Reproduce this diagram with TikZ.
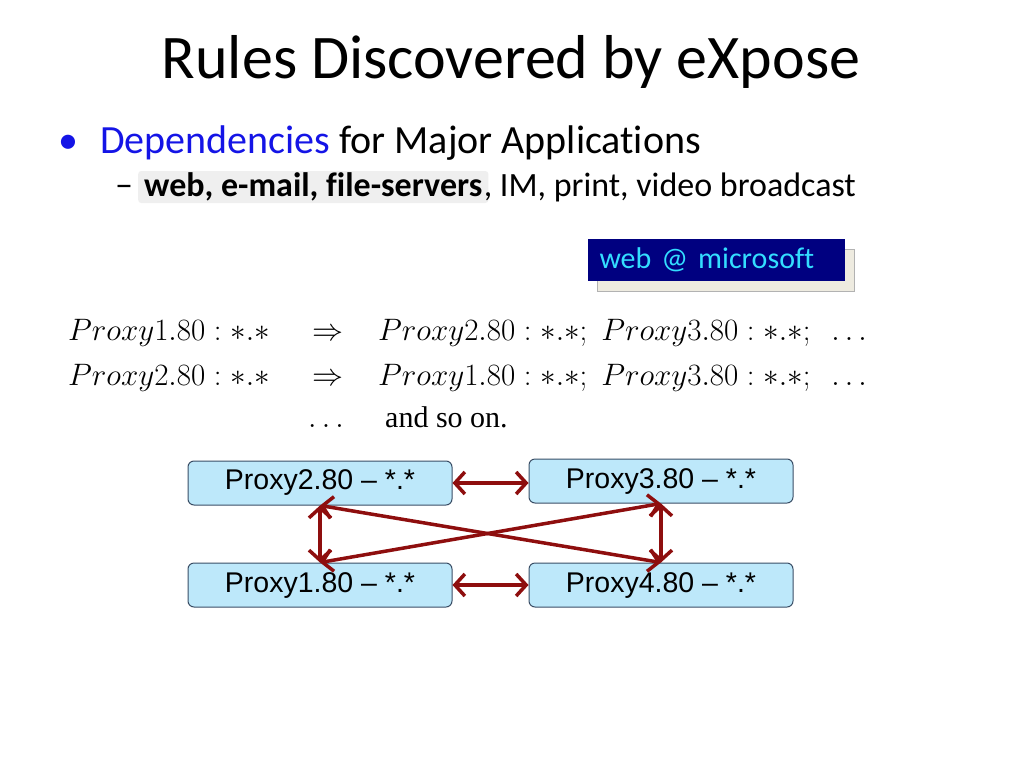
\RequirePackage{fix-cm}
\documentclass[tikz,border=0pt]{standalone}
\usepackage[no-math]{fontspec}
\setmainfont{Carlito}[Ligatures=NoCommon]
\newfontfamily\arialfont{Liberation Sans}
\newfontfamily\timesfont{Liberation Serif}
\usetikzlibrary{arrows.meta,shadows}
\definecolor{depblue}{HTML}{1414E6}
\definecolor{hlgray}{HTML}{EFEFEF}
\definecolor{navybox}{HTML}{000080}
\definecolor{cyantext}{HTML}{33DDFF}
\definecolor{shadowfill}{HTML}{EEEBE0}
\definecolor{proxyfill}{HTML}{BDE8FA}
\definecolor{proxyedge}{HTML}{3A4E66}
\definecolor{linkred}{HTML}{8E0E0E}
\newcommand{\sz}[1]{\fontsize{#1}{#1}\selectfont}
\tikzset{
  proxybox/.style={rectangle,rounded corners=6pt,draw=proxyedge,line width=1pt,
                   fill=proxyfill,minimum width=264pt,minimum height=44pt,
                   inner sep=0pt,font=\arialfont\sz{28.5}},
  txt/.style={anchor=base west,inner sep=0pt},
  mathtxt/.style={anchor=base west,inner sep=0pt,font=\sz{31}},
  link/.style={draw=linkred,line width=3.5pt,
               {Straight Barb[length=10pt,width=22pt]}-{Straight Barb[length=10pt,width=22pt]}}
}
\begin{document}
\begin{tikzpicture}[x=1pt,y=1pt]
 \useasboundingbox (0,0) rectangle (1024,-768);

 \draw (511,-78)  node[anchor=base,inner sep=0pt,font=\sz{62}] (title)
              {Rules Discovered by eXpose};

 \draw (58,-153)  node[txt,font=\sz{40}] (bul) {\textcolor{depblue}{•}};
 \draw (100,-153) node[txt,font=\sz{40}] (dep)
              {\textcolor{depblue}{Dependencies} for Major Applications};

 \draw (115,-196) node[txt,font=\sz{36}] (dash) {–};
 \draw (138,-196) node[anchor=base west,fill=hlgray,rounded corners=3pt,
              inner xsep=6pt,inner ysep=2pt,text height=23pt,text depth=5pt,
              font=\sz{34}] (apps) {\textbf{web, e-mail, file-servers}};
 \draw (apps.base east) node[txt,font=\sz{34},xshift=-5pt] (more)
              {, IM, print, video broadcast};

 \draw (716,-260) node[rectangle,fill=navybox,minimum width=257pt,minimum height=42pt,
              text width=233pt,inner xsep=12pt,align=left,text=cyantext,font=\sz{30},
              general shadow={fill=shadowfill,draw=gray!60,line width=1pt,
                              shadow xshift=10pt,shadow yshift=-10pt}] (ms)
              {web @ microsoft};

 \draw (68,-340)  node[mathtxt] (lhsA) {$Proxy1.80: *.*$};
 \draw (312,-340) node[mathtxt] (impA) {$\Rightarrow$};
 \draw (378,-340) node[mathtxt] (rhsA) {$Proxy2.80: *.*;\; Proxy3.80: *.*;\;\ \ldots$};

 \draw (68,-385)  node[mathtxt] (lhsB) {$Proxy2.80: *.*$};
 \draw (312,-385) node[mathtxt] (impB) {$\Rightarrow$};
 \draw (378,-385) node[mathtxt] (rhsB) {$Proxy1.80: *.*;\; Proxy3.80: *.*;\;\ \ldots$};

 \draw (308,-427) node[mathtxt] (dots) {$\ldots$};
 \draw (385,-427) node[txt,font=\timesfont\sz{30}] (soon) {and so on.};

 \draw (320,-483) node[proxybox] (P2) {Proxy2.80 – *.*};
 \draw (661,-481) node[proxybox] (P3) {Proxy3.80 – *.*};
 \draw (320,-585) node[proxybox] (P1) {Proxy1.80 – *.*};
 \draw (661,-585) node[proxybox] (P4) {Proxy4.80 – *.*};

 \draw[link] (P2.east) -- (P2.east -| P3.west);
 \draw[link] (P1.east) -- (P4.west);
 \draw[link] (P2.south) -- (P1.north);
 \draw[link] (P3.south) -- (P4.north);
 \draw[link] (P2.south) -- (P4.north);
 \draw[link] (P1.north) -- (P3.south);

\end{tikzpicture}
\end{document}
